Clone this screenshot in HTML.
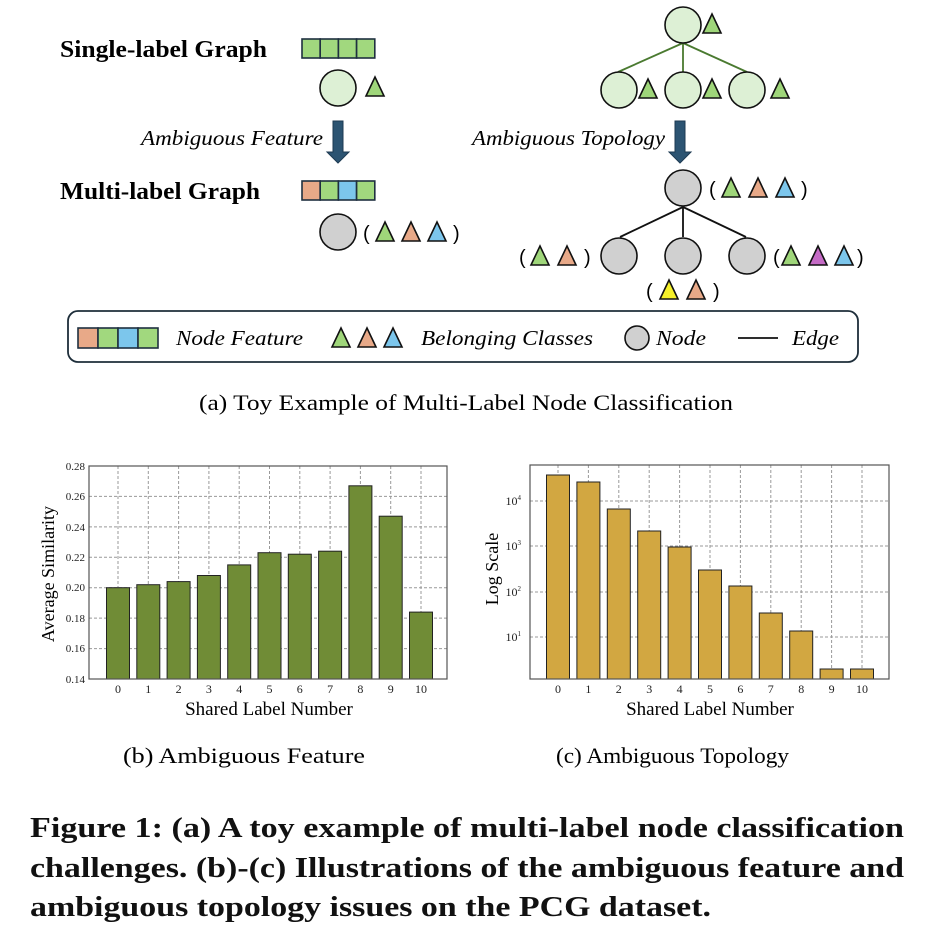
<!DOCTYPE html>
<html><head><meta charset="utf-8"><style>
html,body{margin:0;padding:0;background:#fff;}
svg{display:block;}
.s{font-family:"Liberation Serif",serif;}
</style></head><body>
<svg width="936" height="942" viewBox="0 0 936 942" xmlns="http://www.w3.org/2000/svg" class="s">
<defs>
<polygon id="t" points="0,0 9,-19 18,0" stroke="#111" stroke-width="1.6" stroke-linejoin="miter"/>
<g id="arrow"><polygon points="0,0 10,0 10,31 16,31 5,42 -6,31 0,31" fill="#2c5472" stroke="#1d3a52" stroke-width="1"/></g>
</defs>

<!-- Top left -->
<text x="60" y="57" font-size="24" font-weight="bold" textLength="207" lengthAdjust="spacingAndGlyphs">Single-label Graph</text>
<g stroke="#1f3040" stroke-width="1.6">
<rect x="302" y="39" width="18.2" height="19" fill="#a1d87e"/><rect x="320.2" y="39" width="18.2" height="19" fill="#a1d87e"/><rect x="338.4" y="39" width="18.2" height="19" fill="#a1d87e"/><rect x="356.6" y="39" width="18.2" height="19" fill="#a1d87e"/>
</g>
<circle cx="338" cy="88" r="18" fill="#ddf0d5" stroke="#111" stroke-width="1.6"/>
<use href="#t" x="366" y="96" fill="#9fd67a"/>
<use href="#arrow" x="333" y="121"/>
<text x="141" y="145" font-size="21" font-style="italic" textLength="182" lengthAdjust="spacingAndGlyphs">Ambiguous Feature</text>
<text x="60" y="199" font-size="24" font-weight="bold" textLength="200" lengthAdjust="spacingAndGlyphs">Multi-label Graph</text>
<g stroke="#1f3040" stroke-width="1.6">
<rect x="302" y="181" width="18.2" height="19" fill="#e8a988"/><rect x="320.2" y="181" width="18.2" height="19" fill="#a1d87e"/><rect x="338.4" y="181" width="18.2" height="19" fill="#7cc6ec"/><rect x="356.6" y="181" width="18.2" height="19" fill="#a1d87e"/>
</g>
<circle cx="338" cy="232" r="18" fill="#d0d0d0" stroke="#111" stroke-width="1.6"/>
<text x="363" y="240" font-size="20" font-family="Liberation Sans">(</text>
<use href="#t" x="376" y="241" fill="#9fd67a"/><use href="#t" x="402" y="241" fill="#e8a988"/><use href="#t" x="428" y="241" fill="#7cc6ec"/>
<text x="453" y="240" font-size="20" font-family="Liberation Sans">)</text>

<!-- Top right -->
<g stroke="#4a7a30" stroke-width="1.8"><line x1="683" y1="43" x2="618" y2="72"/><line x1="683" y1="43" x2="683" y2="72"/><line x1="683" y1="43" x2="747" y2="72"/></g>
<circle cx="683" cy="25" r="18" fill="#ddf0d5" stroke="#111" stroke-width="1.6"/>
<use href="#t" x="703" y="33" fill="#9fd67a"/>
<circle cx="619" cy="90" r="18" fill="#ddf0d5" stroke="#111" stroke-width="1.6"/>
<circle cx="683" cy="90" r="18" fill="#ddf0d5" stroke="#111" stroke-width="1.6"/>
<circle cx="747" cy="90" r="18" fill="#ddf0d5" stroke="#111" stroke-width="1.6"/>
<use href="#t" x="639" y="98" fill="#9fd67a"/><use href="#t" x="703" y="98" fill="#9fd67a"/><use href="#t" x="771" y="98" fill="#9fd67a"/>
<use href="#arrow" x="675" y="121"/>
<text x="472" y="145" font-size="21" font-style="italic" textLength="193" lengthAdjust="spacingAndGlyphs">Ambiguous Topology</text>
<g stroke="#111" stroke-width="1.8"><line x1="683" y1="207" x2="620" y2="237"/><line x1="683" y1="207" x2="683" y2="237"/><line x1="683" y1="207" x2="746" y2="237"/></g>
<circle cx="683" cy="188" r="18" fill="#d0d0d0" stroke="#111" stroke-width="1.6"/>
<text x="709" y="196" font-size="20" font-family="Liberation Sans">(</text>
<use href="#t" x="722" y="197" fill="#9fd67a"/><use href="#t" x="749" y="197" fill="#e8a988"/><use href="#t" x="776" y="197" fill="#7cc6ec"/>
<text x="801" y="196" font-size="20" font-family="Liberation Sans">)</text>
<circle cx="619" cy="256" r="18" fill="#d0d0d0" stroke="#111" stroke-width="1.6"/>
<circle cx="683" cy="256" r="18" fill="#d0d0d0" stroke="#111" stroke-width="1.6"/>
<circle cx="747" cy="256" r="18" fill="#d0d0d0" stroke="#111" stroke-width="1.6"/>
<text x="519" y="264" font-size="20" font-family="Liberation Sans">(</text>
<use href="#t" x="531" y="265" fill="#9fd67a"/><use href="#t" x="558" y="265" fill="#e8a988"/>
<text x="584" y="264" font-size="20" font-family="Liberation Sans">)</text>
<text x="773" y="264" font-size="20" font-family="Liberation Sans">(</text>
<use href="#t" x="782" y="265" fill="#9fd67a"/><use href="#t" x="809" y="265" fill="#c56bc6"/><use href="#t" x="835" y="265" fill="#7cc6ec"/>
<text x="857" y="264" font-size="20" font-family="Liberation Sans">)</text>
<text x="646" y="298" font-size="20" font-family="Liberation Sans">(</text>
<use href="#t" x="660" y="299" fill="#f5f02a"/><use href="#t" x="687" y="299" fill="#e8a988"/>
<text x="713" y="298" font-size="20" font-family="Liberation Sans">)</text>

<!-- Legend -->
<rect x="68" y="311" width="790" height="51" rx="10" fill="#fff" stroke="#1e2e3a" stroke-width="1.8"/>
<g stroke="#1f3040" stroke-width="1.6">
<rect x="78" y="328" width="20" height="20" fill="#e8a988"/><rect x="98" y="328" width="20" height="20" fill="#a1d87e"/><rect x="118" y="328" width="20" height="20" fill="#7cc6ec"/><rect x="138" y="328" width="20" height="20" fill="#a1d87e"/>
</g>
<text x="176" y="345" font-size="21" font-style="italic" textLength="127" lengthAdjust="spacingAndGlyphs">Node Feature</text>
<use href="#t" x="332" y="347" fill="#9fd67a"/><use href="#t" x="358" y="347" fill="#e8a988"/><use href="#t" x="384" y="347" fill="#7cc6ec"/>
<text x="421" y="345" font-size="21" font-style="italic" textLength="172" lengthAdjust="spacingAndGlyphs">Belonging Classes</text>
<circle cx="637" cy="338" r="12" fill="#d0d0d0" stroke="#111" stroke-width="1.6"/>
<text x="656" y="345" font-size="21" font-style="italic" textLength="50" lengthAdjust="spacingAndGlyphs">Node</text>
<line x1="738" y1="338" x2="778" y2="338" stroke="#111" stroke-width="1.8"/>
<text x="792" y="345" font-size="21" font-style="italic" textLength="47" lengthAdjust="spacingAndGlyphs">Edge</text>
<text x="199" y="410" font-size="22" textLength="534" lengthAdjust="spacingAndGlyphs">(a)  Toy Example of Multi-Label Node Classification</text>

<!-- Chart b -->
<g stroke="#999" stroke-width="1" stroke-dasharray="3,2">
<line x1="89" y1="496.4" x2="447" y2="496.4"/><line x1="89" y1="526.9" x2="447" y2="526.9"/><line x1="89" y1="557.3" x2="447" y2="557.3"/><line x1="89" y1="587.7" x2="447" y2="587.7"/><line x1="89" y1="618.1" x2="447" y2="618.1"/><line x1="89" y1="648.6" x2="447" y2="648.6"/>
<line x1="118" y1="466" x2="118" y2="679"/><line x1="148.3" y1="466" x2="148.3" y2="679"/><line x1="178.6" y1="466" x2="178.6" y2="679"/><line x1="208.9" y1="466" x2="208.9" y2="679"/><line x1="239.2" y1="466" x2="239.2" y2="679"/><line x1="269.5" y1="466" x2="269.5" y2="679"/><line x1="299.8" y1="466" x2="299.8" y2="679"/><line x1="330.1" y1="466" x2="330.1" y2="679"/><line x1="360.4" y1="466" x2="360.4" y2="679"/><line x1="390.7" y1="466" x2="390.7" y2="679"/><line x1="421" y1="466" x2="421" y2="679"/>
</g>
<g fill="#708c36" stroke="#222" stroke-width="1">
<rect x="106.5" y="587.7" width="23" height="91.3"/>
<rect x="136.8" y="584.7" width="23" height="94.3"/>
<rect x="167.1" y="581.6" width="23" height="97.4"/>
<rect x="197.4" y="575.5" width="23" height="103.5"/>
<rect x="227.7" y="564.9" width="23" height="114.1"/>
<rect x="258" y="552.7" width="23" height="126.3"/>
<rect x="288.3" y="554.2" width="23" height="124.8"/>
<rect x="318.6" y="551.2" width="23" height="127.8"/>
<rect x="348.9" y="485.8" width="23" height="193.2"/>
<rect x="379.2" y="516.2" width="23" height="162.8"/>
<rect x="409.5" y="612.1" width="23" height="66.9"/>
</g>
<rect x="89" y="466" width="358" height="213" fill="none" stroke="#555" stroke-width="1.2"/>
<g font-size="11" text-anchor="end" fill="#222">
<text x="85" y="470">0.28</text><text x="85" y="500">0.26</text><text x="85" y="531">0.24</text><text x="85" y="561">0.22</text><text x="85" y="591">0.20</text><text x="85" y="622">0.18</text><text x="85" y="652">0.16</text><text x="85" y="683">0.14</text>
</g>
<g font-size="12" text-anchor="middle" fill="#222">
<text x="118" y="693">0</text><text x="148.3" y="693">1</text><text x="178.6" y="693">2</text><text x="208.9" y="693">3</text><text x="239.2" y="693">4</text><text x="269.5" y="693">5</text><text x="299.8" y="693">6</text><text x="330.1" y="693">7</text><text x="360.4" y="693">8</text><text x="390.7" y="693">9</text><text x="421" y="693">10</text>
</g>
<text x="269" y="715" font-size="19" text-anchor="middle">Shared Label Number</text>
<text transform="translate(54,574) rotate(-90)" font-size="18" text-anchor="middle">Average Similarity</text>
<text x="123" y="763" font-size="22" textLength="242" lengthAdjust="spacingAndGlyphs">(b)  Ambiguous Feature</text>

<!-- Chart c -->
<g stroke="#999" stroke-width="1" stroke-dasharray="3,2">
<line x1="530" y1="501" x2="889" y2="501"/><line x1="530" y1="546" x2="889" y2="546"/><line x1="530" y1="592" x2="889" y2="592"/><line x1="530" y1="637" x2="889" y2="637"/>
<line x1="558" y1="465" x2="558" y2="679"/><line x1="588.4" y1="465" x2="588.4" y2="679"/><line x1="618.8" y1="465" x2="618.8" y2="679"/><line x1="649.2" y1="465" x2="649.2" y2="679"/><line x1="679.6" y1="465" x2="679.6" y2="679"/><line x1="710" y1="465" x2="710" y2="679"/><line x1="740.4" y1="465" x2="740.4" y2="679"/><line x1="770.8" y1="465" x2="770.8" y2="679"/><line x1="801.2" y1="465" x2="801.2" y2="679"/><line x1="831.6" y1="465" x2="831.6" y2="679"/><line x1="862" y1="465" x2="862" y2="679"/>
</g>
<g fill="#d2a741" stroke="#222" stroke-width="1">
<rect x="546.5" y="475" width="23" height="204"/>
<rect x="576.9" y="482" width="23" height="197"/>
<rect x="607.3" y="509" width="23" height="170"/>
<rect x="637.7" y="531" width="23" height="148"/>
<rect x="668.1" y="547" width="23" height="132"/>
<rect x="698.5" y="570" width="23" height="109"/>
<rect x="728.9" y="586" width="23" height="93"/>
<rect x="759.3" y="613" width="23" height="66"/>
<rect x="789.7" y="631" width="23" height="48"/>
<rect x="820.1" y="669" width="23" height="10"/>
<rect x="850.5" y="669" width="23" height="10"/>
</g>
<rect x="530" y="465" width="359" height="214" fill="none" stroke="#555" stroke-width="1.2"/>
<g font-size="12" text-anchor="end" fill="#222">
<text x="521" y="505">10<tspan font-size="7" dy="-5">4</tspan></text>
<text x="521" y="550">10<tspan font-size="7" dy="-5">3</tspan></text>
<text x="521" y="596">10<tspan font-size="7" dy="-5">2</tspan></text>
<text x="521" y="641">10<tspan font-size="7" dy="-5">1</tspan></text>
</g>
<g font-size="12" text-anchor="middle" fill="#222">
<text x="558" y="693">0</text><text x="588.4" y="693">1</text><text x="618.8" y="693">2</text><text x="649.2" y="693">3</text><text x="679.6" y="693">4</text><text x="710" y="693">5</text><text x="740.4" y="693">6</text><text x="770.8" y="693">7</text><text x="801.2" y="693">8</text><text x="831.6" y="693">9</text><text x="862" y="693">10</text>
</g>
<text x="710" y="715" font-size="19" text-anchor="middle">Shared Label Number</text>
<text transform="translate(498,569) rotate(-90)" font-size="18" text-anchor="middle">Log Scale</text>
<text x="556" y="763" font-size="22" textLength="233" lengthAdjust="spacingAndGlyphs">(c)  Ambiguous Topology</text>

<!-- Figure caption -->
<g font-size="29" font-weight="bold" fill="#111">
<text x="30" y="837" textLength="874" lengthAdjust="spacingAndGlyphs">Figure 1: (a) A toy example of multi-label node classification</text>
<text x="30" y="877" textLength="874" lengthAdjust="spacingAndGlyphs">challenges. (b)-(c) Illustrations of the ambiguous feature and</text>
<text x="30" y="916" textLength="681" lengthAdjust="spacingAndGlyphs">ambiguous topology issues on the PCG dataset.</text>
</g>
</svg>
</body></html>
